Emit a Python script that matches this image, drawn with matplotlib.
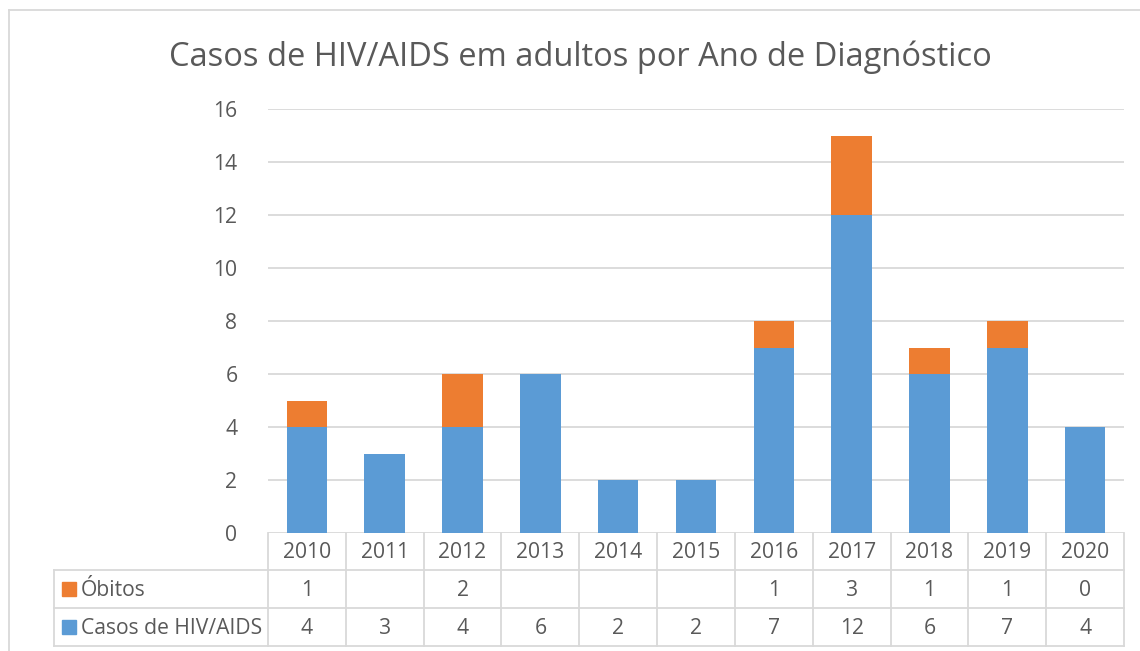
import matplotlib.pyplot as plt
from matplotlib.lines import Line2D
from matplotlib.patches import Rectangle

years = ["2010", "2011", "2012", "2013", "2014", "2015",
         "2016", "2017", "2018", "2019", "2020"]
casos = [4, 3, 4, 6, 2, 2, 7, 12, 6, 7, 4]
obitos = [1, None, 2, None, None, None, 1, 3, 1, 1, 0]
series_names = ["Óbitos", "Casos de HIV/AIDS"]

BLUE = "#5B9BD5"
ORANGE = "#ED7D31"
TXT = "#595959"
GRID = "#D9D9D9"
FS = 15.2

plt.rcParams['font.family'] = ['Open Sans', 'DejaVu Sans']

W, H = 1140, 651


def fx(px):
    return px / W


def fy(py):
    return 1 - py / H


fig = plt.figure(figsize=(W / 100, H / 100), dpi=100)
ax = fig.add_axes([fx(268), fy(533), (1124 - 268) / W, (533 - 109) / H])

x = list(range(len(years)))
obitos_bar = [v if v is not None else 0 for v in obitos]
ax.bar(x, casos, width=0.52, color=BLUE, zorder=3)
ax.bar(x, obitos_bar, bottom=casos, width=0.52, color=ORANGE, zorder=3)

ax.set_xlim(-0.5, len(years) - 0.5)
ax.set_ylim(0, 16)
ax.set_yticks(range(0, 17, 2))
ax.set_xticks([])
ax.yaxis.grid(True, color=GRID, lw=1.3)
ax.set_axisbelow(True)
for s in ax.spines.values():
    s.set_visible(False)
ax.tick_params(axis='y', length=0, pad=22, labelsize=FS, labelcolor=TXT)

fig.text(fx(580), fy(57), "Casos de HIV/AIDS em adultos por Ano de Diagnóstico",
         ha='center', va='center', fontsize=23.5, color=TXT)

# chart border (left and top visible)
fig.add_artist(Line2D([fx(9), fx(9)], [fy(10), 0], color=GRID, lw=1.3))
fig.add_artist(Line2D([fx(9), 1], [fy(10), fy(10)], color=GRID, lw=1.3))

# data table under the chart
inv = fig.transFigure.inverted()


def col_edge(v):
    return inv.transform(ax.transData.transform((v, 0)))[0]


edges = [col_edge(i - 0.5) for i in range(len(years) + 1)]
row_y = [533, 570, 608, 646]
left = fx(54)
right = edges[-1]
lw = 1.3

for py in row_y[1:]:
    fig.add_artist(Line2D([left, right], [fy(py), fy(py)], color=GRID, lw=lw))
for e in edges:
    fig.add_artist(Line2D([e, e], [fy(533), fy(646)], color=GRID, lw=lw))
fig.add_artist(Line2D([left, left], [fy(570), fy(646)], color=GRID, lw=lw))

for i, yr in enumerate(years):
    cx = (edges[i] + edges[i + 1]) / 2
    fig.text(cx, fy(553), yr, ha='center', va='center', fontsize=FS, color=TXT)
    if obitos[i] is not None:
        fig.text(cx, fy(591), str(obitos[i]), ha='center', va='center',
                 fontsize=FS, color=TXT)
    fig.text(cx, fy(629), str(casos[i]), ha='center', va='center',
             fontsize=FS, color=TXT)

for name, color, cy in zip(series_names, [ORANGE, BLUE], [589, 627]):
    fig.add_artist(Rectangle((fx(62), fy(cy + 7)), 14 / W, 14 / H,
                             color=color, transform=fig.transFigure))
    fig.text(fx(81), fy(cy + 2), name, ha='left', va='center', fontsize=FS,
             color=TXT)

fig.savefig("out.png", dpi=100)
